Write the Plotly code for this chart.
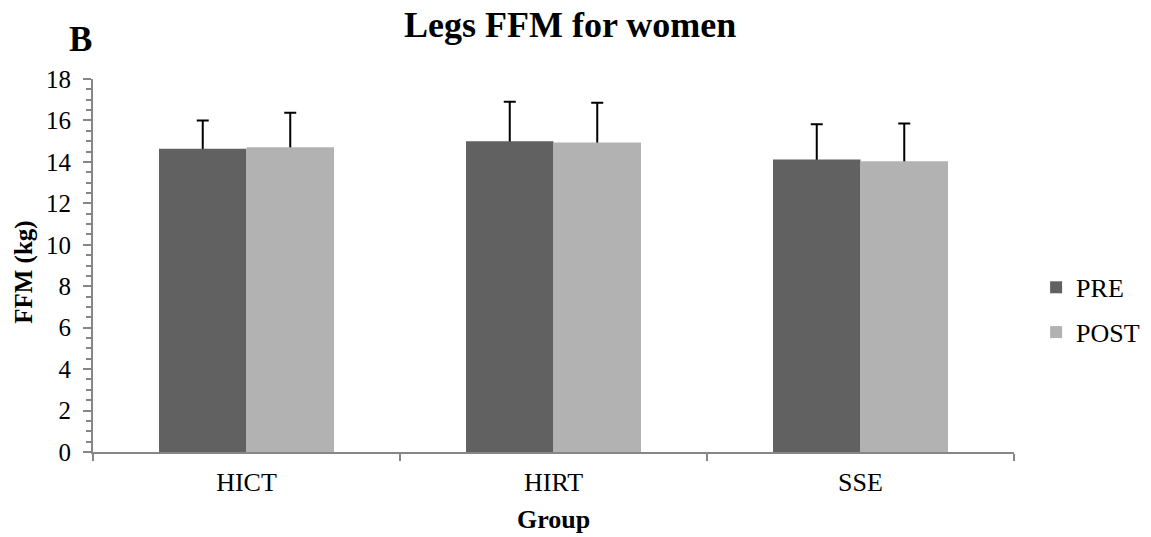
import plotly.graph_objects as go

groups = ["HICT", "HIRT", "SSE"]
pre_values = [14.63, 15.00, 14.11]
post_values = [14.71, 14.93, 14.03]
pre_sd = [1.37, 1.90, 1.71]
post_sd = [1.66, 1.92, 1.82]
y_ticks = [0, 2, 4, 6, 8, 10, 12, 14, 16, 18]

FONT = "Liberation Serif, Tinos, Times New Roman, Times, DejaVu Serif, serif"
AXIS_COLOR = "#868686"
PRE_COLOR = "#616161"
POST_COLOR = "#b2b2b2"

fig = go.Figure()
# Error bars first (on transparent bars), so the solid bars drawn afterwards
# hide the lower half of each whisker, leaving only the upward part visible.
for name, vals, sd in [("PRE", pre_values, pre_sd), ("POST", post_values, post_sd)]:
    fig.add_trace(go.Bar(
        name=name + " SD", x=groups, y=vals, offsetgroup=name,
        showlegend=False, hoverinfo="skip",
        marker=dict(color="rgba(0,0,0,0)", line=dict(width=0)),
        error_y=dict(type="data", array=sd, symmetric=True,
                     color="black", thickness=2, width=6),
    ))
fig.add_trace(go.Bar(
    name="PRE", x=groups, y=pre_values, offsetgroup="PRE", legendgroup="pre",
    marker=dict(color=PRE_COLOR, line=dict(width=0)),
))
fig.add_trace(go.Bar(
    name="POST", x=groups, y=post_values, offsetgroup="POST", legendgroup="post",
    marker=dict(color=POST_COLOR, line=dict(width=0)),
))

x_font = dict(family=FONT, size=26, color="black", weight=400)
y_font = dict(family=FONT, size=25, color="black", weight=400)

fig.update_layout(
    width=1151, height=537,
    margin=dict(l=93, r=137, t=79, b=85, autoexpand=False),
    paper_bgcolor="white", plot_bgcolor="white",
    barmode="group", bargap=0.43, bargroupgap=0,
    font=dict(family=FONT, size=25, color="black"),
    showlegend=True,
    legend=dict(x=1.024, y=0.381, xanchor="left", yanchor="middle",
                font=x_font, tracegroupgap=8, bgcolor="rgba(0,0,0,0)"),
    xaxis=dict(
        showline=True, linecolor=AXIS_COLOR, linewidth=2,
        ticks="outside", tickson="boundaries", ticklen=7, tickwidth=2,
        tickcolor=AXIS_COLOR, showgrid=False, zeroline=False,
        tickfont=x_font, ticklabelstandoff=6,
    ),
    yaxis=dict(
        range=[0, 18], tickvals=y_ticks, showline=True, linecolor=AXIS_COLOR,
        linewidth=2, ticks="outside", ticklen=8, tickwidth=2,
        tickcolor=AXIS_COLOR, showgrid=False, zeroline=False,
        tickfont=y_font, ticklabelstandoff=7,
        minor=dict(dtick=0.5, ticks="outside", ticklen=5, tickwidth=2,
                   tickcolor=AXIS_COLOR, showgrid=False),
    ),
    annotations=[
        dict(text="<b>Legs FFM for women</b>", xref="paper", yref="paper",
             x=0.518, y=1.145, xanchor="center", yanchor="middle",
             showarrow=False, font=dict(family=FONT, size=36, color="black")),
        dict(text="<b>B</b>", xref="paper", yref="paper",
             x=-0.014, y=1.105, xanchor="center", yanchor="middle",
             showarrow=False, font=dict(family=FONT, size=35, color="black")),
        dict(text="<b>FFM (kg)</b>", xref="paper", yref="paper",
             x=-0.075, y=0.483, xanchor="center", yanchor="middle",
             textangle=-90, showarrow=False,
             font=dict(family=FONT, size=25, color="black")),
        dict(text="<b>Group</b>", xref="paper", yref="paper",
             x=0.5, y=-0.18, xanchor="center", yanchor="middle",
             showarrow=False, font=dict(family=FONT, size=26, color="black")),
    ],
)

fig.write_html("out.html")
